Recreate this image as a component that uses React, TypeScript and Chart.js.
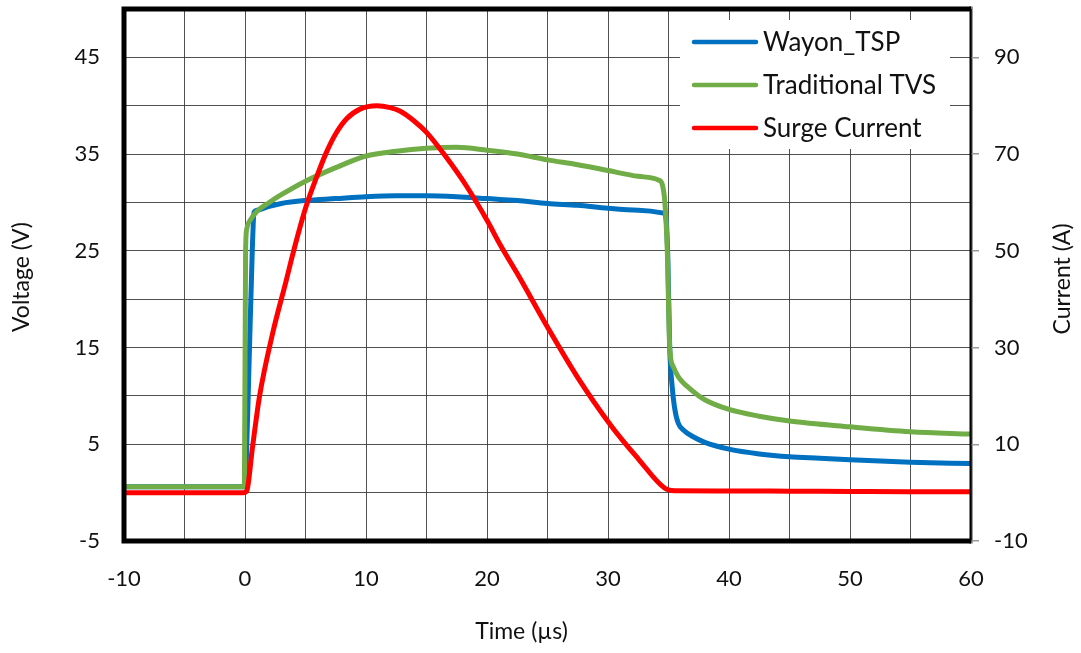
import React, { useEffect, useRef } from 'react';
import { Chart, registerables } from 'chart.js';

Chart.register(...registerables);

// ---- Data ----
const X_TICK_LABELS = [-10, 0, 10, 20, 30, 40, 50, 60];
const V_TICK_LABELS = [-5, 5, 15, 25, 35, 45];
const I_TICK_LABELS = [-10, 10, 30, 50, 70, 90];

const SERIES_NAMES = ['Wayon_TSP', 'Traditional TVS', 'Surge Current'];
const SERIES_COLORS = ['#0070C0', '#70AD47', '#FF0000'];

// Wayon_TSP voltage (V)
const TSP_T = [-10, -5, -0.05, 0.1, 0.35, 0.6, 0.75, 1.0, 2, 3, 5, 7.5, 10, 12.5, 15, 17.5, 20, 22.5, 25, 27.5, 30, 32.5, 34.6, 34.8, 34.95, 35.1, 35.3, 35.5, 35.8, 36.3, 37, 38, 40, 42.5, 45, 47.5, 50, 55, 60];
const TSP_V = [0.6, 0.6, 0.6, 3, 14, 25, 29.0, 29.2, 29.6, 29.9, 30.2, 30.4, 30.6, 30.7, 30.7, 30.6, 30.4, 30.2, 29.9, 29.7, 29.4, 29.2, 28.9, 28.3, 24, 15, 11, 8.8, 7.2, 6.4, 5.8, 5.2, 4.5, 4.0, 3.7, 3.55, 3.4, 3.15, 3.0];

// Traditional TVS voltage (V)
const TVS_T = [-10, -5, -0.05, 0.05, 0.15, 0.5, 1.0, 2, 3, 5, 7.5, 10, 12.5, 15, 17.5, 20, 22.5, 25, 27.5, 30, 32.5, 34.2, 34.5, 34.7, 34.9, 35.1, 35.4, 35.8, 36.9, 38, 40, 42.5, 45, 50, 55, 60];
const TVS_V = [0.6, 0.6, 0.6, 25, 27.3, 28.3, 29.1, 30.0, 30.8, 32.2, 33.6, 34.8, 35.3, 35.6, 35.7, 35.4, 35.0, 34.4, 33.9, 33.3, 32.7, 32.3, 31.8, 30, 25, 15, 13, 12, 10.6, 9.6, 8.6, 7.9, 7.4, 6.8, 6.3, 6.05];

// Surge current (A)
const CUR_T = [-10, -5, -0.1, 0.15, 0.6, 1.2, 2.3, 3.4, 4.0, 5.0, 6.0, 6.7, 7.5, 8.4, 9.5, 10.9, 12.0, 12.8, 14.0, 15.0, 16.5, 18.3, 20.0, 21.1, 22.5, 25.1, 27.5, 30.3, 32.5, 34.7, 35.5, 40, 45, 50, 55, 60];
const CUR_I = [0, 0, 0, 0.4, 9, 19.9, 33.1, 43.8, 49.8, 58.8, 65.8, 70.2, 74.2, 77.3, 79.3, 80, 79.6, 78.9, 76.8, 74.5, 69.8, 63.4, 56.3, 51.2, 45.3, 33.8, 23.8, 13.7, 7.0, 0.9, 0.4, 0.35, 0.3, 0.25, 0.2, 0.2];

const zip = (xs: number[], ys: number[]) => xs.map((x, i) => ({ x, y: ys[i] }));

const FONT = 'Lato, "Open Sans", sans-serif';

const framePlugin = {
  id: 'framePlugin',
  afterDraw(chart: any) {
    const { ctx, chartArea } = chart;
    const { left, right, top, bottom } = chartArea;
    ctx.save();

    // Legend inside plot area (white box)
    const boxL = right - 291;
    const boxT = top + 11;
    ctx.fillStyle = '#ffffff';
    ctx.fillRect(boxL, boxT, 270, 129);
    SERIES_NAMES.forEach((name, i) => {
      const y = boxT + 22 + i * 43;
      ctx.strokeStyle = SERIES_COLORS[i];
      ctx.lineWidth = 4.5;
      ctx.lineCap = 'round';
      ctx.beginPath();
      ctx.moveTo(boxL + 14, y);
      ctx.lineTo(boxL + 76, y);
      ctx.stroke();
      ctx.fillStyle = '#111111';
      ctx.font = `26px ${FONT}`;
      ctx.textAlign = 'left';
      ctx.textBaseline = 'middle';
      ctx.fillText(name, boxL + 83, y + 1);
    });

    // Frame
    ctx.lineCap = 'butt';
    ctx.strokeStyle = '#000000';
    ctx.lineWidth = 5;
    ctx.beginPath();
    ctx.moveTo(left, bottom + 2.5);
    ctx.lineTo(left, top - 2.5);
    ctx.moveTo(left - 2.5, top);
    ctx.lineTo(right, top);
    ctx.moveTo(left - 2.5, bottom);
    ctx.lineTo(right, bottom);
    ctx.stroke();
    ctx.lineWidth = 2;
    ctx.beginPath();
    ctx.moveTo(right - 0.5, top - 2.5);
    ctx.lineTo(right - 0.5, bottom + 2.5);
    ctx.stroke();
    ctx.strokeStyle = '#9a9a9a';
    ctx.lineWidth = 1;
    ctx.beginPath();
    ctx.moveTo(right + 1.5, top - 2.5);
    ctx.lineTo(right + 1.5, bottom + 2.5);
    ctx.stroke();

    // Axis titles
    ctx.fillStyle = '#111111';
    ctx.font = `23px ${FONT}`;
    ctx.textAlign = 'center';
    ctx.textBaseline = 'middle';
    ctx.fillText('Time (\u00b5s)', (left + right) / 2 - 26, bottom + 91);

    ctx.save();
    ctx.translate(22, (top + bottom) / 2 + 2);
    ctx.rotate(-Math.PI / 2);
    ctx.fillText('Voltage (V)', 0, 0);
    ctx.restore();

    ctx.save();
    ctx.translate(chart.width - 18, (top + bottom) / 2 + 4);
    ctx.rotate(-Math.PI / 2);
    ctx.fillText('Current (A)', 0, 0);
    ctx.restore();

    ctx.restore();
  },
};

export default function App() {
  const canvasRef = useRef<HTMLCanvasElement | null>(null);

  useEffect(() => {
    if (!canvasRef.current) return;
    const gridColor = 'rgba(50,50,50,0.85)';
    const noPad = (s: any) => {
      s.paddingTop = 0;
      s.paddingBottom = 0;
    };
    const chart = new Chart(canvasRef.current, {
      type: 'line',
      data: {
        datasets: [
          {
            label: SERIES_NAMES[0],
            data: zip(TSP_T, TSP_V),
            borderColor: SERIES_COLORS[0],
            borderWidth: 5,
            pointRadius: 0,
            cubicInterpolationMode: 'monotone',
            yAxisID: 'y',
            order: 3,
          },
          {
            label: SERIES_NAMES[1],
            data: zip(TVS_T, TVS_V),
            borderColor: SERIES_COLORS[1],
            borderWidth: 5,
            pointRadius: 0,
            cubicInterpolationMode: 'monotone',
            yAxisID: 'y',
            order: 2,
          },
          {
            label: SERIES_NAMES[2],
            data: zip(CUR_T, CUR_I),
            borderColor: SERIES_COLORS[2],
            borderWidth: 5,
            pointRadius: 0,
            cubicInterpolationMode: 'monotone',
            yAxisID: 'y1',
            order: 1,
          },
        ],
      },
      options: {
        responsive: false,
        animation: false,
        layout: { padding: { top: 9, left: 0, right: 0, bottom: 0 } },
        plugins: {
          legend: { display: false },
          tooltip: { enabled: false },
        },
        font: { family: FONT },
        scales: {
          x: {
            type: 'linear',
            min: -10,
            max: 60,
            border: { display: false },
            grid: { color: gridColor, lineWidth: 1, drawTicks: false },
            ticks: {
              stepSize: 5,
              padding: 25,
              color: '#111111',
              font: { family: FONT, size: 22 },
              maxRotation: 0,
              autoSkip: false,
              callback: (v: any) => (X_TICK_LABELS.includes(Number(v)) ? String(v) : ''),
            },
            afterFit: (s: any) => {
              s.height = 112;
              s.paddingLeft = 0;
              s.paddingRight = 0;
            },
          },
          y: {
            type: 'linear',
            position: 'left',
            min: -5,
            max: 50,
            border: { display: false },
            grid: { color: gridColor, lineWidth: 1, drawTicks: false },
            ticks: {
              stepSize: 5,
              padding: 24,
              color: '#111111',
              font: { family: FONT, size: 22 },
              autoSkip: false,
              callback: (v: any) => (V_TICK_LABELS.includes(Number(v)) ? String(v) : ''),
            },
            afterFit: (s: any) => {
              s.width = 124;
              noPad(s);
            },
          },
          y1: {
            type: 'linear',
            position: 'right',
            min: -10,
            max: 100,
            border: { display: false },
            grid: {
              drawOnChartArea: false,
              drawTicks: true,
              tickLength: 8,
              color: '#9a9a9a',
              lineWidth: 1.5,
            },
            afterBuildTicks: (s: any) => {
              s.ticks = I_TICK_LABELS.map((v) => ({ value: v }));
            },
            ticks: {
              padding: 15,
              color: '#111111',
              font: { family: FONT, size: 22 },
              autoSkip: false,
              callback: (v: any) => String(v),
            },
            afterFit: (s: any) => {
              s.width = 110;
              noPad(s);
            },
          },
        },
      } as any,
      plugins: [framePlugin],
    });
    return () => chart.destroy();
  }, []);

  return (
    <div style={{ position: 'absolute', left: 0, top: 0, width: 1081, height: 653, background: '#ffffff' }}>
      <canvas ref={canvasRef} width={1081} height={653} />
    </div>
  );
}
